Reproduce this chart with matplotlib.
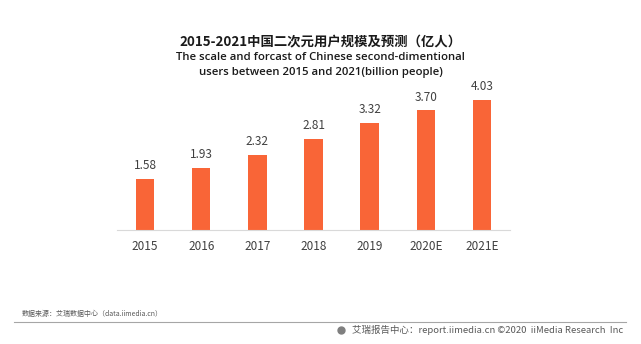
import matplotlib
matplotlib.use("Agg")
import matplotlib.pyplot as plt
from matplotlib.lines import Line2D

plt.rcParams['font.family'] = ['Noto Sans CJK SC', 'DejaVu Sans']

categories = ["2015", "2016", "2017", "2018", "2019", "2020E", "2021E"]
values = [1.58, 1.93, 2.32, 2.81, 3.32, 3.70, 4.03]
labels = ["1.58", "1.93", "2.32", "2.81", "3.32", "3.70", "4.03"]

fig = plt.figure(figsize=(6.41, 3.44), dpi=100)
ax = fig.add_axes([117/641, 1-230/344, (510-117)/641, 140/344])
x = range(len(categories))
bars = ax.bar(x, values, width=0.33, color="#F96537")
ax.set_xlim(-0.5, len(categories)-0.5)
ax.set_ylim(0, 140/32.3)
for b, lab in zip(bars, labels):
    ax.annotate(lab, (b.get_x()+b.get_width()/2, b.get_height()), xytext=(0, 5),
                textcoords="offset points", ha="center", va="bottom",
                fontsize=8.5, color="#404040")
ax.set_xticks(list(x))
ax.set_xticklabels(categories, fontsize=8.5, color="#404040")
ax.tick_params(axis='x', length=0, pad=7)
ax.set_yticks([])
for s in ["top", "right", "left"]:
    ax.spines[s].set_visible(False)
ax.spines["bottom"].set_color("#D9D9D9")
ax.spines["bottom"].set_linewidth(0.8)

fig.text(0.5, 1-42/344, "2015-2021中国二次元用户规模及预测（亿人）", ha="center", va="center",
         fontsize=9.6, fontweight="bold", color="#1a1a1a")
fig.text(0.5, 1-58/344, "The scale and forcast of Chinese second-dimentional", ha="center", va="center",
         fontsize=8.2, fontweight="semibold", family=["Open Sans", "DejaVu Sans"], color="#1a1a1a")
fig.text(0.5, 1-72/344, "users between 2015 and 2021(billion people)", ha="center", va="center",
         fontsize=8.2, fontweight="semibold", family=["Open Sans", "DejaVu Sans"], color="#1a1a1a")

fig.text(22/641, 1-314/344, "数据来源：艾瑞数据中心（data.iimedia.cn）", ha="left", va="center",
         fontsize=5.0, color="#595959")
fig.add_artist(Line2D([14/641, 626/641], [1-322/344, 1-322/344], color="#A6A6A6", lw=0.8,
                      transform=fig.transFigure))
fig.text(623/641, 1-330/344, "艾瑞报告中心：report.iimedia.cn ©2020  iiMedia Research  Inc", ha="right",
         va="center", fontsize=6.8, color="#595959")
fig.add_artist(Line2D([341/641], [1-330/344], marker="o", markersize=5, color="#7F7F7F",
                      transform=fig.transFigure))

fig.savefig("out.png", dpi=100)
